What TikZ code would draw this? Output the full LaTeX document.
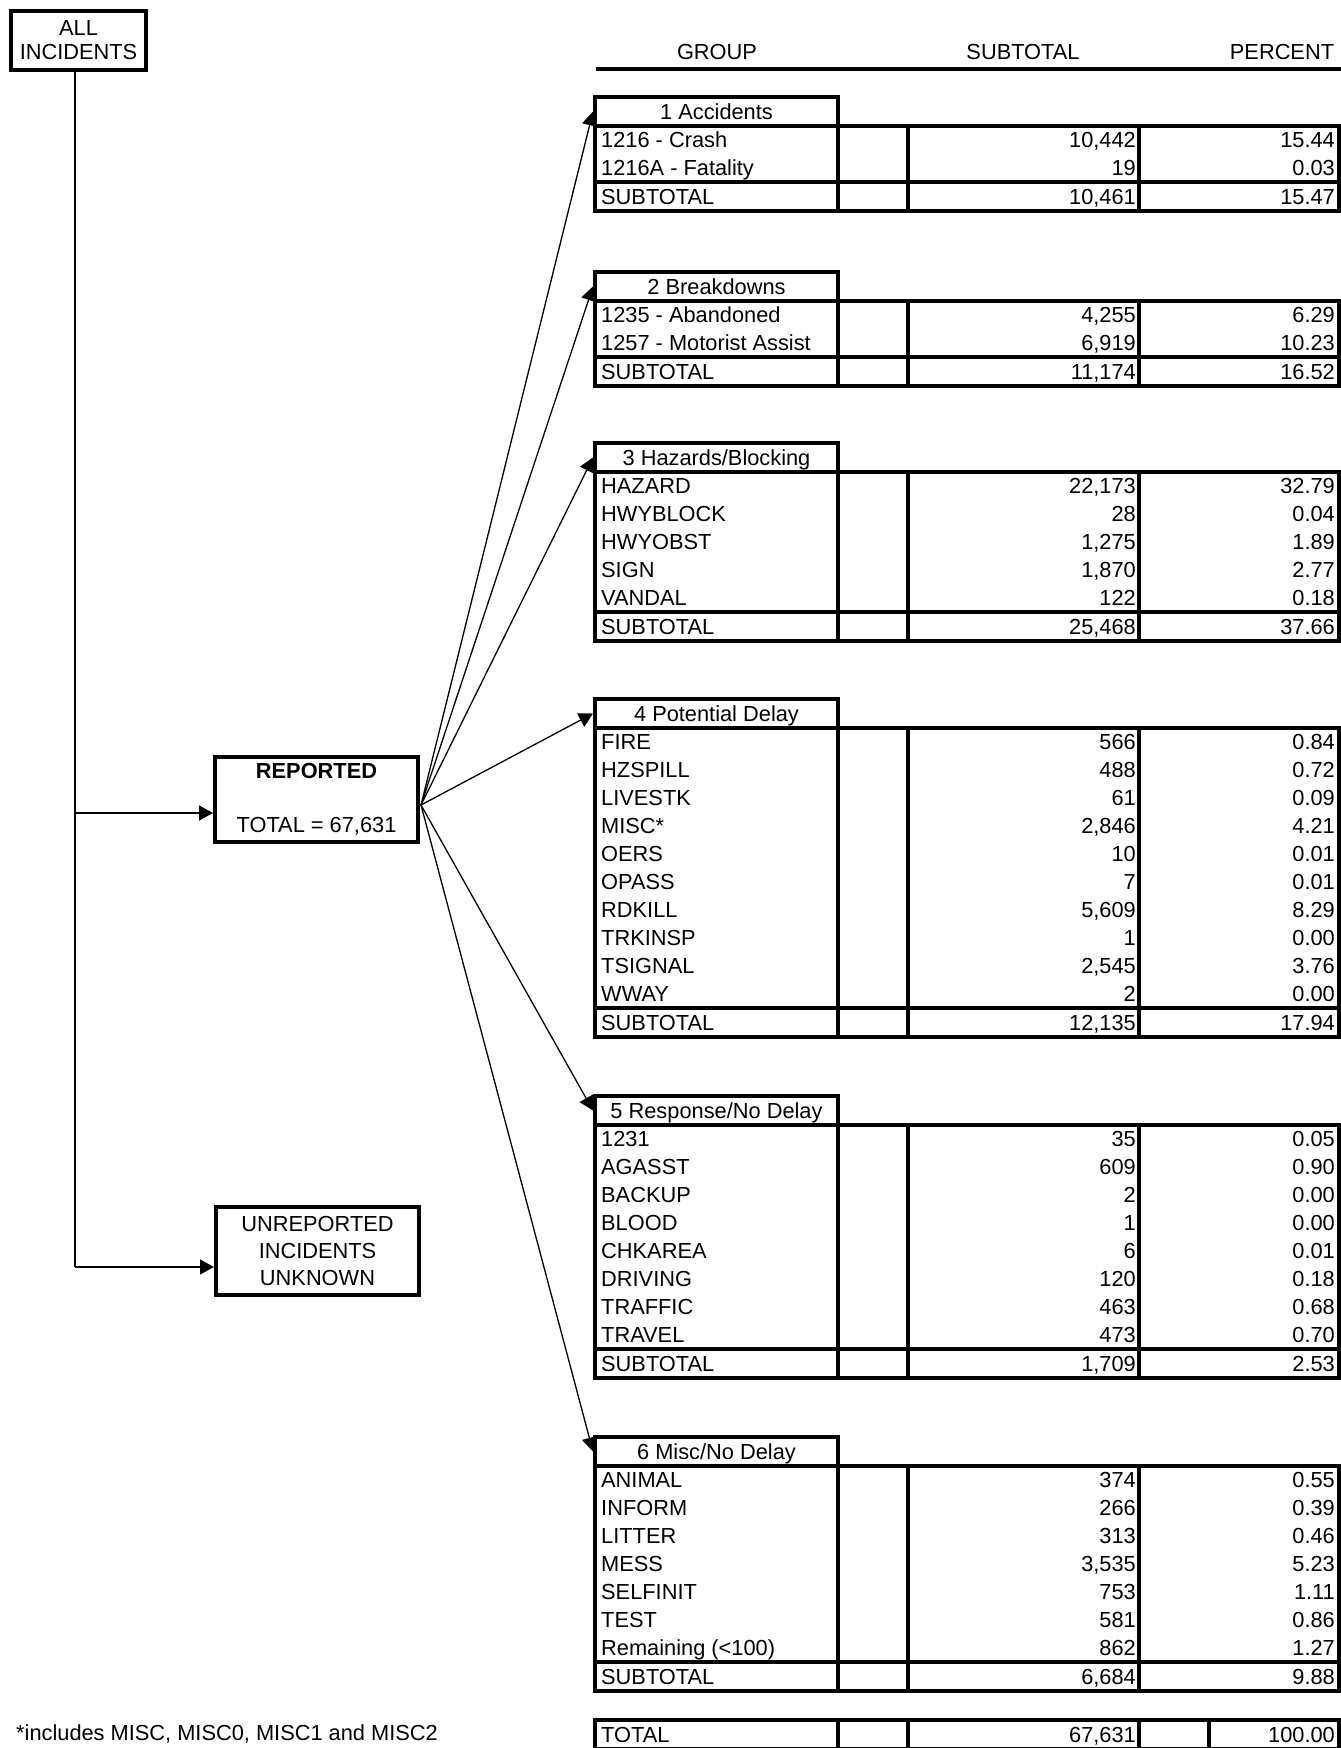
\documentclass[tikz,border=0pt]{standalone}
\usepackage{fontspec}
\setmainfont{Liberation Sans}
\usetikzlibrary{arrows.meta}
\newcommand\fsz{\fontsize{21.8pt}{27pt}\selectfont}
\tikzset{
  every node/.style={font=\fsz},
  tbl/.style={line width=4pt},
  box/.style={draw, line width=4pt, inner sep=0pt, align=center},
  titlebox/.style={draw, line width=4pt, inner sep=0pt, minimum width=243pt, minimum height=29pt, text height=15.6pt, text depth=0pt},
  labcell/.style={anchor=west, inner sep=0pt, text height=15.6pt, text depth=0pt},
  numcell/.style={anchor=east, inner sep=0pt, text height=15.6pt, text depth=0pt},
  hdr/.style={inner sep=0pt, text height=15.6pt, text depth=0pt},
  conn/.style={line width=1.3pt},
  arr/.style={conn, -{Triangle[length=14pt,width=15pt]}}
}
\newcommand\drawgroup[7]{%
  \node[titlebox] (#1) at (716.5,#2+14.5) {#3};
  \pgfmathsetmacro\dtop{#2+29}%
  \pgfmathsetmacro\sline{#2+29+28*#4}%
  \pgfmathsetmacro\gbot{#2+58+28*#4}%
  \draw[tbl] (595,\dtop) rectangle (1339,\gbot);
  \draw[tbl] (595,\sline) -- (1339,\sline);
  \foreach \xx in {838,908,1139}{\draw[tbl] (\xx,\dtop) -- (\xx,\gbot);}
  \foreach \a/\b/\c [count=\i from 0] in {#5}{%
    \node[labcell] (#1l\i) at (601,\dtop+14+28*\i) {\a};
    \node[numcell] (#1s\i) at (1136,\dtop+14+28*\i) {\b};
    \node[numcell] (#1p\i) at (1335,\dtop+14+28*\i) {\c};
  }
  \node[labcell] (#1lt) at (601,\sline+14.5) {SUBTOTAL};
  \node[numcell] (#1st) at (1136,\sline+14.5) {#6};
  \node[numcell] (#1pt) at (1335,\sline+14.5) {#7};
}
\begin{document}
\begin{tikzpicture}[x=1pt,y=-1pt]
\useasboundingbox (0,0) rectangle (1341,1748);

% left side boxes
\node[box, minimum width=135pt, minimum height=59pt] (all) at (78.5,40.5) {ALL\\[-3pt]INCIDENTS};
\node[box, minimum width=203pt, minimum height=85pt] (rep) at (316.5,799.5) {\textbf{REPORTED}\\[27pt]TOTAL = 67,631};
\node[box, minimum width=203pt, minimum height=88pt] (unr) at (317.5,1251) {UNREPORTED\\INCIDENTS\\UNKNOWN};

% header
\node[hdr] (hgroup) at (717,52) {GROUP};
\node[hdr] (hsub) at (1023,52) {SUBTOTAL};
\node[hdr] (hpct) at (1282,52) {PERCENT};
\draw[line width=4pt] (596,69) -- (1341,69);

% groups
\drawgroup{g1}{97}{1 Accidents}{2}{1216 - Crash/{10,442}/15.44,1216A - Fatality/19/0.03}{10,461}{15.47}
\drawgroup{g2}{272}{2 Breakdowns}{2}{1235 - Abandoned/{4,255}/6.29,1257 - Motorist Assist/{6,919}/10.23}{11,174}{16.52}
\drawgroup{g3}{443}{3 Hazards/Blocking}{5}{HAZARD/{22,173}/32.79,HWYBLOCK/28/0.04,HWYOBST/{1,275}/1.89,SIGN/{1,870}/2.77,VANDAL/122/0.18}{25,468}{37.66}
\drawgroup{g4}{699}{4 Potential Delay}{10}{FIRE/566/0.84,HZSPILL/488/0.72,LIVESTK/61/0.09,MISC*/{2,846}/4.21,OERS/10/0.01,OPASS/7/0.01,RDKILL/{5,609}/8.29,TRKINSP/1/0.00,TSIGNAL/{2,545}/3.76,WWAY/2/0.00}{12,135}{17.94}
\drawgroup{g5}{1096}{5 Response/No Delay}{8}{1231/35/0.05,AGASST/609/0.90,BACKUP/2/0.00,BLOOD/1/0.00,CHKAREA/6/0.01,DRIVING/120/0.18,TRAFFIC/463/0.68,TRAVEL/473/0.70}{1,709}{2.53}
\drawgroup{g6}{1437}{6 Misc/No Delay}{7}{ANIMAL/374/0.55,INFORM/266/0.39,LITTER/313/0.46,MESS/{3,535}/5.23,SELFINIT/753/1.11,TEST/581/0.86,Remaining (<100)/862/1.27}{6,684}{9.88}

% total row
\draw[tbl] (595,1720) rectangle (1339,1749);
\foreach \xx in {838,908,1139,1209}{\draw[tbl] (\xx,1720) -- (\xx,1749);}
\node[labcell] (totl) at (601,1734.5) {TOTAL};
\node[numcell] (tots) at (1136,1734.5) {67,631};
\node[numcell] (totp) at (1335,1734.5) {100.00};

% footnote
\node[labcell] (foot) at (16,1733) {*includes MISC, MISC0, MISC1 and MISC2};

% connectors
\coordinate (vr) at (75,813);
\coordinate (vu) at (75,1267);
\draw[conn] (all.south -| vr) -- (vu);
\draw[arr] (vr) -- (vr -| rep.west);
\draw[arr] (vu) -- (vu -| unr.west);
\coordinate (fan) at (421,805);
\foreach \g in {g1,g2,g3,g4,g5,g6}{\draw[arr] (fan) -- (\g.west);}
\end{tikzpicture}
\end{document}
